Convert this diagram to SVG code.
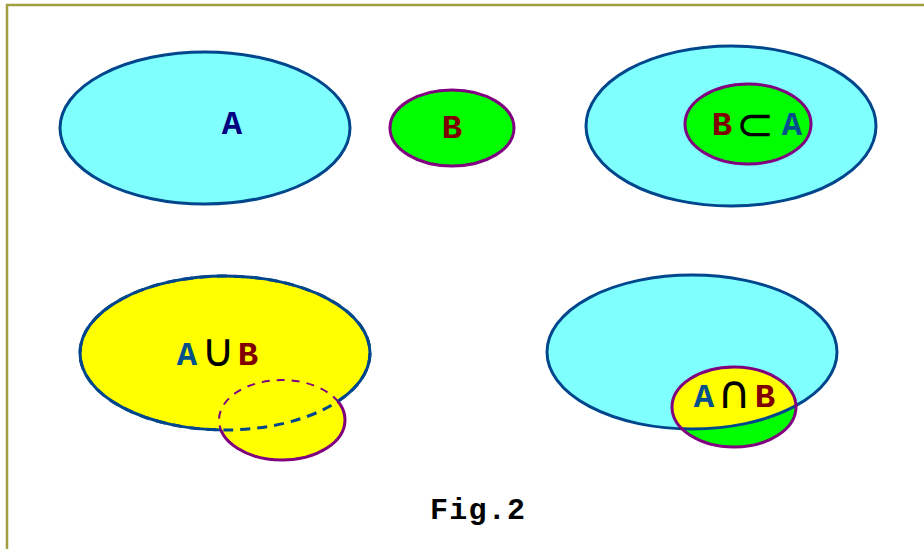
<svg xmlns="http://www.w3.org/2000/svg" width="924" height="549" viewBox="0 0 924 549">
<style>
.cy{fill:#80ffff;stroke:#00468c;stroke-width:3}
.gr{fill:#00ff00;stroke:#800080;stroke-width:3}
.t{font-family:"Liberation Mono","Courier New",monospace;font-weight:bold;font-size:34px;text-anchor:middle}
.sym{font-family:"DejaVu Sans",sans-serif;font-size:46px;text-anchor:middle;fill:#000}
.a{fill:#00508c}
.b{fill:#800000}
</style>
<defs>
<clipPath id="outBigL"><path clip-rule="evenodd" d="M0 0H924V549H0Z M80 353a145 77 0 1 0 290 0a145 77 0 1 0 -290 0Z"/></clipPath>
<clipPath id="outSmallL"><path clip-rule="evenodd" d="M0 0H924V549H0Z M219 420a63 40 0 1 0 126 0a63 40 0 1 0 -126 0Z"/></clipPath>
<clipPath id="inBigR"><ellipse cx="692" cy="352" rx="145" ry="77"/></clipPath>
<clipPath id="inSmallR"><ellipse cx="734" cy="407" rx="62" ry="40"/></clipPath>
</defs>
<rect width="924" height="549" fill="#fff"/>
<rect x="7" y="5" width="940" height="560" fill="none" stroke="#a0a040" stroke-width="2.5"/>

<g id="setA">
<ellipse class="cy" cx="205" cy="128" rx="145" ry="76"/>
<text class="t" x="232" y="134" fill="#000080">A</text>
</g>
<g id="setB">
<ellipse class="gr" cx="452" cy="128" rx="62" ry="38"/>
<text class="t b" x="452" y="138">B</text>
</g>
<g id="subset">
<ellipse class="cy" cx="731" cy="126" rx="145" ry="80"/>
<ellipse class="gr" cx="748" cy="124" rx="63" ry="40"/>
<text class="t b" x="722" y="135" font-size="30">B</text>
<text class="sym" x="755" y="140">⊂</text>
<text class="t a" x="792" y="135" font-size="30">A</text>
</g>
<g id="union">
<ellipse cx="225" cy="353" rx="145" ry="77" fill="#ffff00"/>
<ellipse cx="282" cy="420" rx="63" ry="40" fill="#ffff00"/>
<ellipse cx="225" cy="353" rx="145" ry="77" fill="none" stroke="#00468c" stroke-width="3" stroke-dasharray="10 7"/>
<ellipse cx="282" cy="420" rx="63" ry="40" fill="none" stroke="#800080" stroke-width="2" stroke-dasharray="8 7"/>
<ellipse cx="225" cy="353" rx="145" ry="77" fill="none" stroke="#00468c" stroke-width="3" clip-path="url(#outSmallL)"/>
<ellipse cx="282" cy="420" rx="63" ry="40" fill="none" stroke="#800080" stroke-width="3" clip-path="url(#outBigL)"/>
<text class="t a" x="187" y="365" font-size="30">A</text>
<text class="sym" x="218" y="366">∪</text>
<text class="t b" x="248" y="365" font-size="30">B</text>
</g>
<g id="intersection">
<ellipse class="cy" cx="692" cy="352" rx="145" ry="77"/>
<ellipse cx="734" cy="407" rx="62" ry="40" fill="#00ff00"/>
<ellipse cx="734" cy="407" rx="62" ry="40" fill="#ffff00" clip-path="url(#inBigR)"/>
<ellipse cx="692" cy="352" rx="145" ry="77" fill="none" stroke="#00468c" stroke-width="3" clip-path="url(#inSmallR)"/>
<ellipse cx="734" cy="407" rx="62" ry="40" fill="none" stroke="#800080" stroke-width="3"/>
<text class="t a" x="704" y="407" font-size="30">A</text>
<text class="sym" x="734" y="408">∩</text>
<text class="t b" x="765" y="407" font-size="30">B</text>
</g>
<g id="caption">
<text x="430" y="519" font-family="Liberation Mono,Courier New,monospace" font-weight="bold" font-size="30" textLength="95" fill="#000">Fig.2</text>
</g>
</svg>
